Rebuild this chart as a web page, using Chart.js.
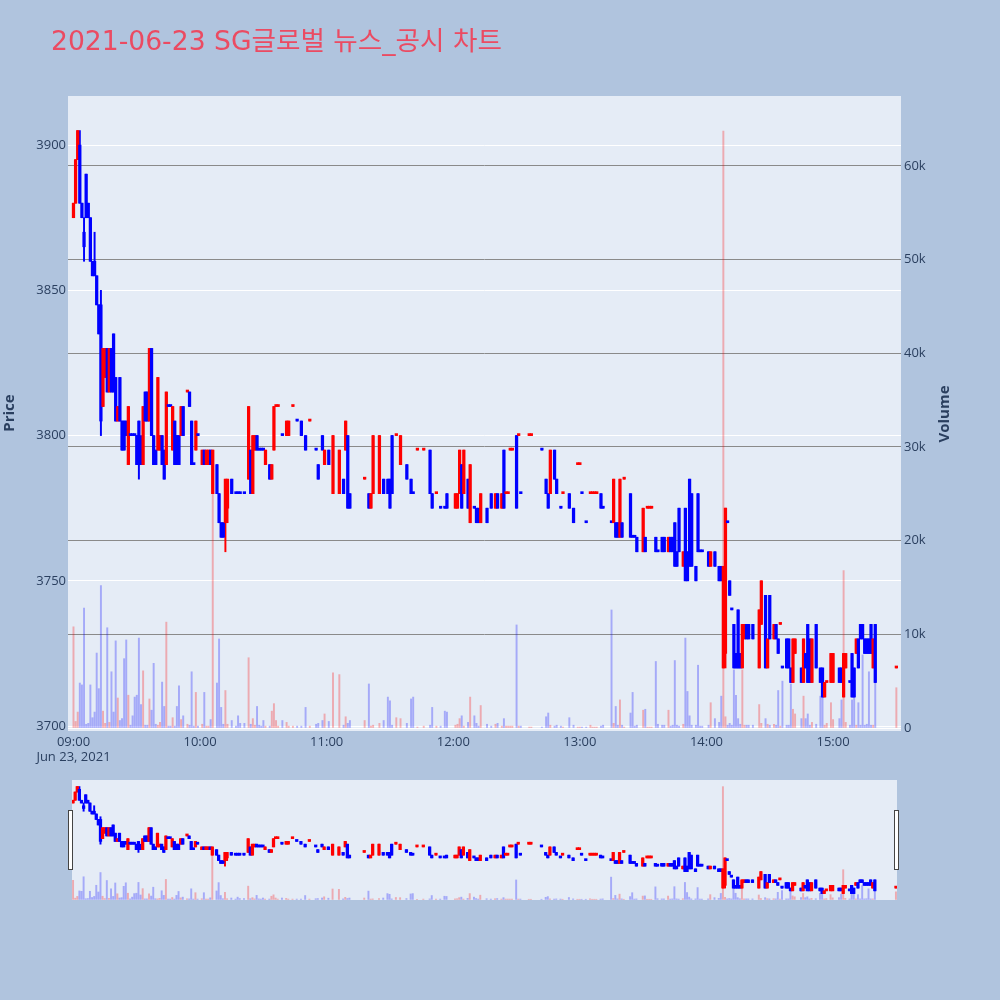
<!DOCTYPE html>
<html><head><meta charset="utf-8">
<script src="https://cdn.jsdelivr.net/npm/chart.js@4.4.1/dist/chart.umd.min.js"></script>
<style>
html,body{margin:0;padding:0;background:#b0c4de;width:1000px;height:1000px;overflow:hidden}
#main{position:absolute;left:0;top:0}
#slider{position:absolute;left:0;top:780px}
.handle{position:absolute;top:810px;width:3px;height:58px;background:#fff;border:1px solid #444;}
</style></head><body>
<canvas id="main" width="1000" height="780"></canvas>
<canvas id="slider" width="1000" height="120"></canvas>
<div class="handle" style="left:68px"></div>
<div class="handle" style="left:894px"></div>
<script>
const chartTitle = '2021-06-23 SG글로벌 뉴스_공시 차트';
const priceTicks = [3700, 3750, 3800, 3850, 3900];
const volumeTicks = [0, 10000, 20000, 30000, 40000, 50000, 60000];
const timeTicks = [0, 60, 120, 180, 240, 300, 360];   // minutes after 09:00
const dateLabel = 'Jun 23, 2021';

// minute after 09:00
const minute = [
0,1,2,3,4,5,6,7,8,9,
10,11,12,13,14,15,16,17,18,19,
20,21,22,23,24,25,26,27,28,29,
30,31,32,33,34,35,36,37,38,39,
40,41,42,43,44,45,46,47,48,49,
50,51,52,54,55,56,57,58,59,61,
62,63,64,65,66,68,69,70,71,72,
73,75,77,78,79,81,83,84,85,86,
87,88,89,90,91,93,94,95,96,97,
99,101,102,104,106,108,110,112,115,116,
118,119,121,123,126,128,129,130,131,138,
140,141,142,145,147,149,150,151,153,155,
158,160,161,163,166,169,170,172,174,176,
177,181,182,183,184,185,187,188,190,191,
192,193,196,198,200,201,203,204,205,206,
207,208,210,211,212,216,217,222,224,225,
226,228,229,231,232,235,237,239,240,241,
243,245,246,247,248,250,251,255,256,257,
258,259,260,261,264,265,266,267,270,271,
272,273,274,276,277,279,280,282,283,284,
285,286,287,289,290,291,292,293,295,296,
297,298,301,302,304,306,307,308,309,310,
311,312,313,314,315,316,317,318,319,320,
322,325,326,328,329,330,332,333,334,335,
336,338,339,340,341,342,345,346,347,348,
349,350,352,354,355,356,357,359,360,363,
364,365,366,368,369,370,371,372,373,374,
375,376,377,378,379,380,390];

const openP = [
3875,3880,3895,3900,3880,3870,3890,3880,3875,3860,
3860,3855,3845,3845,3810,3820,3830,3815,3830,3835,
3820,3805,3820,3805,3805,3805,3790,3800,3800,3800,
3800,3805,3795,3790,3815,3815,3805,3830,3800,3795,
3795,3795,3800,3795,3790,3810,3810,3795,3805,3800,
3800,3800,3810,3815,3815,3805,3790,3795,3800,3790,
3795,3790,3790,3795,3780,3790,3780,3770,3770,3770,
3775,3785,3780,3780,3780,3780,3785,3795,3780,3795,
3800,3795,3795,3795,3790,3790,3785,3795,3810,3810,
3800,3800,3800,3810,3805,3805,3800,3805,3795,3790,
3800,3790,3795,3780,3780,3785,3795,3800,3780,3785,
3780,3775,3780,3780,3785,3785,3785,3800,3800,3790,
3790,3785,3780,3795,3795,3795,3780,3780,3775,3775,
3780,3775,3775,3780,3790,3780,3785,3770,3775,3775,
3775,3770,3775,3780,3775,3780,3775,3795,3780,3780,
3795,3795,3800,3800,3780,3800,3800,3795,3785,3780,
3780,3795,3785,3775,3780,3780,3775,3790,3790,3780,
3770,3780,3780,3780,3780,3780,3775,3770,3770,3770,
3770,3765,3770,3785,3780,3765,3765,3765,3760,3765,
3775,3775,3775,3765,3760,3765,3765,3760,3765,3765,
3770,3760,3775,3755,3775,3760,3785,3780,3755,3780,
3760,3760,3760,3755,3760,3755,3755,3720,3725,3770,
3750,3740,3735,3725,3740,3725,3720,3730,3735,3735,
3735,3720,3735,3745,3720,3745,3730,3735,3730,3735,
3720,3730,3730,3720,3715,3725,3720,3715,3725,3735,
3730,3715,3735,3720,3720,3710,3715,3715,3715,3720,
3720,3710,3720,3715,3725,3720,3725,3730,3735,3735,
3730,3730,3730,3735,3720,3735,3720];

const highP = [
3880,3895,3905,3905,3880,3875,3890,3880,3875,3860,
3870,3855,3845,3850,3830,3830,3830,3830,3830,3835,
3820,3810,3820,3805,3805,3805,3810,3800,3800,3800,
3800,3805,3800,3810,3815,3815,3830,3830,3800,3795,
3820,3800,3800,3795,3815,3810,3810,3810,3805,3800,
3800,3810,3810,3815,3815,3805,3790,3805,3800,3795,
3795,3795,3795,3795,3795,3790,3780,3770,3770,3785,
3785,3785,3780,3780,3780,3780,3810,3795,3800,3800,
3800,3795,3795,3795,3795,3790,3790,3810,3810,3810,
3800,3805,3805,3810,3805,3805,3800,3805,3795,3790,
3800,3795,3795,3800,3795,3785,3805,3800,3780,3785,
3780,3780,3800,3800,3785,3785,3785,3800,3800,3800,
3790,3785,3780,3795,3795,3795,3780,3780,3775,3775,
3780,3780,3780,3795,3790,3795,3785,3790,3775,3775,
3775,3780,3775,3780,3780,3780,3780,3795,3780,3780,
3795,3795,3800,3800,3780,3800,3800,3795,3785,3780,
3795,3795,3785,3775,3780,3780,3775,3790,3790,3780,
3770,3780,3780,3780,3780,3780,3775,3770,3785,3770,
3770,3785,3770,3785,3780,3765,3765,3765,3775,3765,
3775,3775,3775,3765,3760,3765,3765,3765,3765,3765,
3770,3760,3775,3760,3775,3760,3785,3780,3755,3780,
3760,3760,3760,3760,3760,3755,3755,3755,3775,3770,
3750,3740,3735,3725,3740,3725,3735,3735,3735,3735,
3735,3740,3750,3745,3730,3745,3735,3735,3730,3735,
3720,3730,3730,3720,3730,3730,3720,3730,3725,3735,
3730,3730,3735,3720,3720,3715,3715,3725,3725,3720,
3720,3725,3725,3715,3725,3720,3730,3730,3735,3735,
3730,3730,3730,3735,3730,3735,3720];

const lowP = [
3875,3880,3895,3880,3875,3860,3875,3875,3860,3855,
3855,3845,3835,3800,3810,3820,3815,3815,3815,3815,
3805,3805,3805,3795,3795,3800,3790,3800,3800,3800,
3790,3785,3790,3790,3805,3805,3805,3800,3790,3790,
3795,3795,3790,3785,3790,3810,3810,3795,3790,3790,
3790,3800,3800,3815,3810,3790,3790,3795,3800,3790,
3790,3790,3790,3790,3780,3780,3770,3765,3765,3760,
3770,3780,3780,3780,3780,3780,3785,3780,3780,3795,
3795,3795,3795,3795,3790,3785,3785,3795,3810,3810,
3800,3800,3800,3810,3805,3800,3795,3805,3795,3785,
3795,3790,3790,3780,3780,3780,3795,3775,3775,3785,
3775,3775,3780,3780,3780,3780,3775,3780,3800,3790,
3785,3780,3780,3795,3795,3780,3775,3780,3775,3775,
3775,3775,3775,3780,3775,3780,3775,3770,3775,3770,
3770,3770,3770,3775,3775,3775,3775,3775,3780,3780,
3795,3795,3775,3800,3780,3800,3800,3795,3780,3775,
3780,3785,3780,3775,3780,3775,3770,3790,3790,3780,
3770,3780,3780,3780,3780,3775,3775,3770,3770,3765,
3765,3765,3765,3785,3765,3765,3765,3760,3760,3760,
3775,3775,3775,3760,3760,3760,3760,3760,3760,3760,
3755,3755,3760,3755,3750,3750,3755,3755,3750,3760,
3760,3760,3755,3755,3755,3750,3750,3720,3720,3770,
3745,3740,3720,3720,3720,3720,3720,3730,3730,3730,
3730,3720,3735,3720,3720,3730,3730,3730,3725,3735,
3720,3720,3720,3715,3715,3725,3715,3715,3720,3715,
3715,3715,3720,3715,3710,3710,3715,3715,3715,3715,
3715,3710,3720,3715,3710,3710,3725,3720,3730,3730,
3725,3725,3725,3725,3720,3715,3720];

const closeP = [
3880,3895,3905,3880,3875,3865,3875,3875,3860,3855,
3855,3845,3835,3805,3830,3830,3815,3830,3815,3815,
3805,3810,3805,3795,3795,3800,3810,3800,3800,3800,
3790,3790,3790,3810,3805,3805,3830,3800,3790,3790,
3820,3800,3790,3785,3815,3810,3810,3810,3790,3790,
3790,3810,3800,3815,3810,3790,3790,3805,3800,3795,
3790,3795,3795,3790,3795,3780,3770,3765,3765,3785,
3785,3780,3780,3780,3780,3780,3810,3780,3800,3800,
3795,3795,3795,3795,3795,3785,3790,3810,3810,3810,
3800,3805,3805,3810,3805,3800,3795,3805,3795,3785,
3795,3795,3790,3800,3795,3780,3805,3775,3775,3785,
3775,3780,3800,3800,3780,3780,3775,3780,3800,3800,
3785,3780,3780,3795,3795,3780,3775,3780,3775,3775,
3775,3780,3780,3795,3775,3795,3775,3790,3775,3770,
3770,3780,3770,3775,3780,3775,3780,3775,3780,3780,
3795,3795,3775,3800,3780,3800,3800,3795,3780,3775,
3795,3785,3780,3775,3780,3775,3770,3790,3790,3780,
3770,3780,3780,3780,3780,3775,3775,3770,3785,3765,
3765,3785,3765,3785,3765,3765,3765,3760,3775,3760,
3775,3775,3775,3760,3760,3760,3760,3765,3760,3760,
3755,3755,3760,3760,3750,3750,3755,3755,3750,3760,
3760,3760,3755,3760,3755,3750,3750,3755,3775,3770,
3745,3740,3720,3720,3720,3720,3735,3735,3730,3730,
3730,3740,3750,3720,3730,3730,3735,3730,3725,3735,
3720,3720,3720,3715,3730,3730,3715,3730,3720,3715,
3715,3730,3720,3715,3710,3715,3715,3725,3725,3715,
3715,3725,3725,3715,3710,3710,3730,3720,3730,3730,
3725,3725,3725,3725,3730,3715,3720];

const volume = [
10800,700,1700,4800,4600,12800,400,500,4600,1100,
1700,8000,4200,15200,1800,500,10700,600,6000,1700,
9300,3200,800,1000,7400,9400,3500,300,1300,3300,
3500,9600,2500,6100,300,300,3100,1900,6900,400,
300,600,4900,2300,11300,200,200,1100,200,2300,
4500,900,1300,400,300,6000,200,3800,200,400,
3800,200,200,900,27000,4800,9500,2200,400,4000,
400,800,200,1300,500,500,7500,400,1000,300,
2300,300,200,800,200,200,1800,2600,800,200,
800,600,200,200,200,200,2200,200,400,500,
800,1500,700,5900,5700,300,1200,500,800,800,
4700,200,300,500,800,3300,2900,300,1100,1000,
500,3100,3300,100,200,300,2200,200,200,1800,
1700,300,400,1000,1300,200,600,3300,1300,500,
200,2400,400,200,400,500,200,1000,200,200,
200,200,11000,200,200,100,100,100,1200,1600,
300,200,300,200,100,1100,300,100,100,100,
100,300,100,100,100,200,300,12600,500,2300,
300,3000,300,100,1600,3800,200,300,1900,2000,
100,100,100,7100,400,300,300,1900,200,300,
7200,300,200,400,9600,3900,1300,300,300,6700,
200,200,300,2700,1000,600,3400,63700,1200,300,
500,300,6200,3500,1000,400,6200,300,300,300,
300,2500,500,1000,400,300,400,300,4000,200,
5000,300,300,4700,2000,1500,1000,3400,1000,1500,
300,600,400,3400,4600,300,500,2700,900,1000,
3000,16800,600,300,3000,4000,300,2700,300,7800,
300,400,6000,300,300,6500,4300];

[openP, highP, lowP, closeP, volume].forEach((a, k) => {
  if (a.length !== minute.length) throw new Error('length mismatch in array ' + k + ': ' + a.length + ' vs ' + minute.length);
});

// Plotly-style direction: close vs open, ties decided by previous close
const isUp = [];
{
  let prevC = null, prevUp = true;
  for (let i = 0; i < minute.length; i++) {
    let u;
    if (closeP[i] > openP[i]) u = true;
    else if (closeP[i] < openP[i]) u = false;
    else if (prevC !== null && closeP[i] !== prevC) u = closeP[i] > prevC;
    else u = prevUp;
    isUp.push(u); prevUp = u; prevC = closeP[i];
  }
}

const UP = '#ff0000', DOWN = '#0000ff';
const UPV = 'rgba(255,0,0,0.28)', DOWNV = 'rgba(0,0,255,0.28)';
const PLOT_BG = '#e5ecf6';
const TXT = '#2a3f5f';

function makeDatasets() {
  return [
    { type: 'bar', label: 'body', yAxisID: 'y', order: 1, grouped: false,
      data: minute.map((m, i) => ({ x: m, y: [openP[i], closeP[i]] })),
      backgroundColor: isUp.map(u => u ? UP : DOWN), barThickness: 2.6, minBarLength: 2 },
    { type: 'bar', label: 'wick', yAxisID: 'y', order: 2, grouped: false,
      data: minute.map((m, i) => ({ x: m, y: [lowP[i], highP[i]] })),
      backgroundColor: isUp.map(u => u ? UP : DOWN), barThickness: 1.3 },
    { type: 'bar', label: 'volume', yAxisID: 'y2', order: 3, grouped: false,
      data: minute.map((m, i) => ({ x: m, y: volume[i] })),
      backgroundColor: isUp.map(u => u ? UPV : DOWNV), barThickness: 1.3 }
  ];
}

const bgPlugin = {
  id: 'plotbg',
  beforeDraw(chart) {
    const a = chart.chartArea, ctx = chart.ctx;
    ctx.save(); ctx.fillStyle = PLOT_BG;
    ctx.fillRect(a.left, a.top, a.right - a.left, a.bottom - a.top);
    ctx.restore();
  }
};

const textPlugin = {
  id: 'texts',
  afterDraw(chart) {
    const ctx = chart.ctx;
    ctx.save();
    ctx.fillStyle = '#eb4b62';
    ctx.font = '26.6px "DejaVu Sans", "Noto Sans CJK KR", sans-serif';
    ctx.textBaseline = 'alphabetic'; ctx.textAlign = 'left';
    ctx.fillText(chartTitle, 51, 50);
    ctx.fillStyle = TXT;
    ctx.font = 'bold 15px "Open Sans", sans-serif';
    ctx.textAlign = 'center'; ctx.textBaseline = 'middle';
    ctx.save(); ctx.translate(10, 413); ctx.rotate(-Math.PI / 2); ctx.fillText('Price', 0, 0); ctx.restore();
    ctx.save(); ctx.translate(945, 414); ctx.rotate(-Math.PI / 2); ctx.fillText('Volume', 0, 0); ctx.restore();
    ctx.restore();
  }
};

const hhmm = v => { const t = 9 * 60 + v; return String(Math.floor(t / 60)).padStart(2, '0') + ':' + String(t % 60).padStart(2, '0'); };
const tickFont = { family: '"Open Sans", sans-serif', size: 13 };

new Chart(document.getElementById('main'), {
  type: 'bar',
  data: { datasets: makeDatasets() },
  options: {
    responsive: false, animation: false,
    layout: { padding: { left: 0, right: 45, top: 96, bottom: 9 } },
    plugins: { legend: { display: false }, tooltip: { enabled: false }, title: { display: false } },
    scales: {
      x: { type: 'linear', min: -2.6, max: 392.2, offset: false,
        grid: { display: false, drawTicks: false, offset: false }, border: { display: false },
        afterBuildTicks: s => { s.ticks = timeTicks.map(v => ({ value: v })); },
        afterFit: s => { s.height = 40; },
        ticks: { padding: 3, color: TXT, font: tickFont, maxRotation: 0, autoSkip: false,
          callback: (v, i) => i === 0 ? [hhmm(v), dateLabel] : hhmm(v) } },
      y: { type: 'linear', position: 'left', min: 3698.3, max: 3916.9,
        grid: { color: '#ffffff', lineWidth: 1, drawTicks: false }, border: { display: false },
        afterBuildTicks: s => { s.ticks = priceTicks.map(v => ({ value: v })); },
        afterFit: s => { s.width = 68; },
        ticks: { padding: 2, color: TXT, font: tickFont, callback: v => String(v) } },
      y2: { type: 'linear', position: 'right', min: -320, max: 67450,
        grid: { color: c => (c.tick && c.tick.value === 0) ? '#ffffff' : '#8a8a8a', lineWidth: 1, drawTicks: false },
        border: { display: false },
        afterBuildTicks: s => { s.ticks = volumeTicks.map(v => ({ value: v })); },
        afterFit: s => { s.width = 54; },
        ticks: { padding: 3, color: TXT, font: tickFont, callback: v => v === 0 ? '0' : (v / 1000) + 'k' } }
    }
  },
  plugins: [bgPlugin, textPlugin]
});

new Chart(document.getElementById('slider'), {
  type: 'bar',
  data: { datasets: makeDatasets() },
  options: {
    responsive: false, animation: false,
    layout: { padding: { left: 72, right: 103, top: 0, bottom: 0 } },
    plugins: { legend: { display: false }, tooltip: { enabled: false } },
    scales: {
      x: { type: 'linear', display: false, min: -0.5, max: 390.5, offset: false },
      y: { type: 'linear', display: false, min: 3698.3, max: 3916.9 },
      y2: { type: 'linear', display: false, position: 'right', min: -320, max: 67450 }
    }
  },
  plugins: [bgPlugin]
});
</script>
</body></html>
